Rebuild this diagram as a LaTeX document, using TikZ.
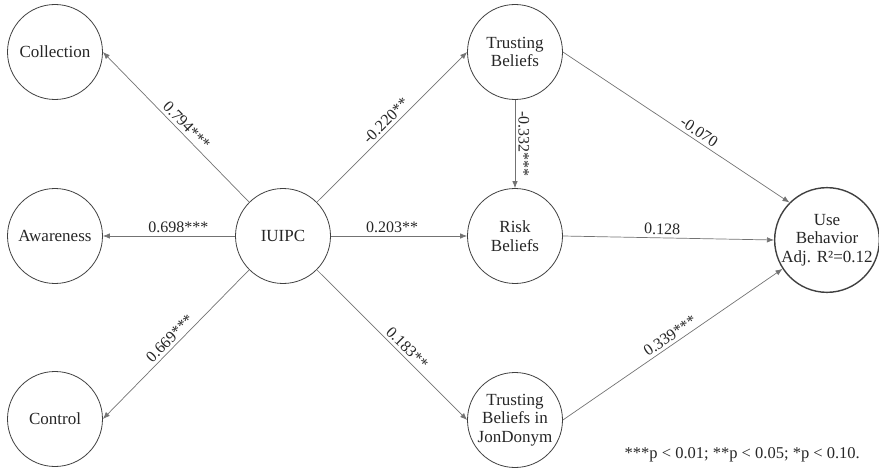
\documentclass[tikz,border=0pt]{standalone}
\usepackage{fontspec}
\setmainfont{Liberation Serif}
\usetikzlibrary{arrows.meta}

\tikzset{
  construct/.style={circle, draw=black!75, line width=0.8pt, minimum size=95pt, inner sep=0pt,
    align=center, text=black!85, font=\fontsize{17}{18.5}\selectfont},
  link/.style={draw=black!55, line width=0.7pt, -{Latex[length=7pt,width=5.5pt]}},
  coef/.style={sloped, above, inner sep=3pt, text=black!85, font=\fontsize{16}{17}\selectfont},
  note/.style={inner sep=0pt, text=black!85, font=\fontsize{16.5}{17}\selectfont}
}

\begin{document}
\begin{tikzpicture}[x=1pt,y=1pt]
	%%Frame
	\useasboundingbox (0,0) rectangle (879,475);

	%%Constructs
	\node[construct] (col) at (55,423) {Collection};
	\node[construct] (awa) at (55,239) {Awareness};
	\node[construct] (con) at (55,56) {Control};
	\node[construct] (iuipc) at (283,239) {IUIPC};
	\node[construct] (tb) at (515,423) {Trusting\\Beliefs};
	\node[construct] (rb) at (515,239) {Risk\\Beliefs};
	\node[construct] (tbj) at (515,55) {Trusting\\Beliefs in\\JonDonym};
	\node[construct, line width=1.4pt, minimum size=104pt] (ub) at (827,235) {Use\\Behavior\\Adj. R²=0.12};

	%%Paths
	\draw[link] (iuipc.north west) -- node[coef, pos=0.47] {0.794***} (col.east);
	\draw[link] (iuipc.west) -- node[coef, pos=0.43] {0.698***} (awa.east);
	\draw[link] (iuipc.south west) -- node[coef] {0.669***} (con.east);
	\draw[link] (iuipc.north east) -- node[coef] {-0.220**} (tb.west);
	\draw[link] (iuipc.east) -- node[coef, pos=0.45] {0.203**} (rb.west);
	\draw[link] (iuipc.south east) -- node[coef, pos=0.56] {0.183**} (tbj.west);
	\draw[link] (tb.south) -- node[coef, allow upside down] {-0.332***} (rb.north);
	\draw[link] (tb.east) -- node[coef, pos=0.58] {-0.070} (ub.north west);
	\draw[link] (rb.east) -- node[coef, pos=0.47] {0.128} (ub.west);
	\draw[link] (tbj.east) -- node[coef, pos=0.51] {0.339***} (ub.213);

	%%Note
	\node[note, anchor=east] (note) at (860,20) {***p < 0.01; **p < 0.05; *p < 0.10.};
\end{tikzpicture}
\end{document}
